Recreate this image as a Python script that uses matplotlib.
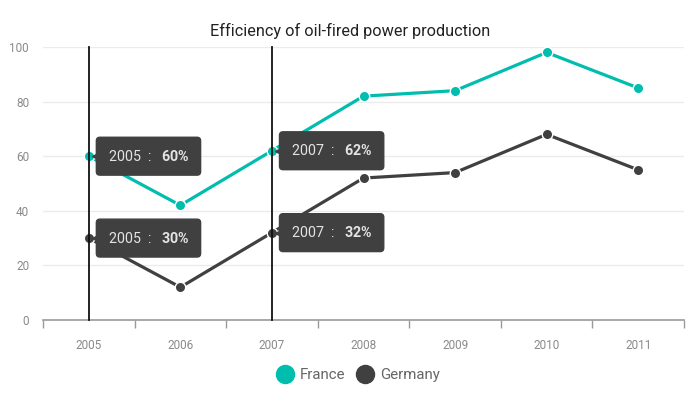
import matplotlib
matplotlib.use("Agg")
import matplotlib.pyplot as plt
import matplotlib.transforms as mtransforms
from matplotlib.lines import Line2D

years = ["2005", "2006", "2007", "2008", "2009", "2010", "2011"]
france = [60, 42, 62, 82, 84, 98, 85]
germany = [30, 12, 32, 52, 54, 68, 55]
tooltip_idx = [0, 2]
series_names = ["France", "Germany"]
colors = ["#00bdae", "#404041"]

plt.rcParams['font.family'] = ['Roboto', 'DejaVu Sans']
plt.rcParams['mathtext.fontset'] = 'custom'
plt.rcParams['mathtext.rm'] = 'Roboto'
plt.rcParams['mathtext.bf'] = 'Roboto:bold'

fig = plt.figure(figsize=(7, 3.95), dpi=100)
ax = fig.add_axes([43/700, 1-320/395, (684-43)/700, (320-47)/395])

x = list(range(len(years)))
for vals, c, name in zip([france, germany], colors, series_names):
    ax.plot(x, vals, color=c, lw=2.3, marker='o', ms=7.5, mfc=c,
            mec='white', mew=1, zorder=3, label=name, solid_capstyle='round')

ax.set_xlim(-0.5, len(years)-0.5)
ax.set_ylim(0, 100)
ax.set_yticks([0, 20, 40, 60, 80, 100])
ax.grid(axis='y', color='#ebebeb', lw=1)
ax.set_axisbelow(True)
ax.set_xticks(x)
ax.set_xticklabels(years)
ax.set_xticks([i - 0.5 for i in range(len(years)+1)], minor=True)
ax.tick_params(axis='x', which='major', length=0, pad=14, labelsize=8.5, labelcolor='#8a8a8a')
ax.tick_params(axis='x', which='minor', length=6, width=1, color='#9a9a9a', direction='out')
ax.tick_params(axis='y', length=0, pad=10, labelsize=8.5, labelcolor='#8a8a8a')
for s in ['top', 'right', 'left']:
    ax.spines[s].set_visible(False)
ax.spines['bottom'].set_color('#9a9a9a')
ax.spines['bottom'].set_linewidth(1.2)

# crosshair lines
for i in tooltip_idx:
    ax.plot([i, i], [0, 100], color='#111111', lw=1.3, zorder=4, clip_on=False)

# tooltips
for i in tooltip_idx:
    for vals in [france, germany]:
        txt = f"{years[i]}  :   " + r"$\mathbf{" + str(vals[i]) + r"\%}$"
        ax.annotate(txt, xy=(i, vals[i]), xytext=(19, 0), textcoords='offset pixels',
                    ha='left', va='center', fontsize=10.3, color='#e4e4e4', zorder=6,
                    bbox=dict(boxstyle='round,pad=0.8,rounding_size=0.25',
                              fc='#404040', ec='#404040'))
        tr = mtransforms.offset_copy(ax.transData, fig=fig, x=6, y=0, units='dots')
        ax.plot([i], [vals[i]], marker='<', ms=5, color='#404040', mec='#404040',
                transform=tr, zorder=6, clip_on=False)

fig.text(350/700, 1-31/395, "Efficiency of oil-fired power production",
         ha='center', va='center', fontsize=11.7, color='#222222')

handles = [Line2D([], [], ls='none', marker='o', ms=13, mfc=c, mec=c) for c in colors]
fig.legend(handles, series_names, loc='center', bbox_to_anchor=(358/700, 1-375/395),
           ncol=2, frameon=False, fontsize=10.8, labelcolor='#666666',
           handletextpad=0.4, columnspacing=0.7, handlelength=1.2)

fig.savefig("out.png", dpi=100)
